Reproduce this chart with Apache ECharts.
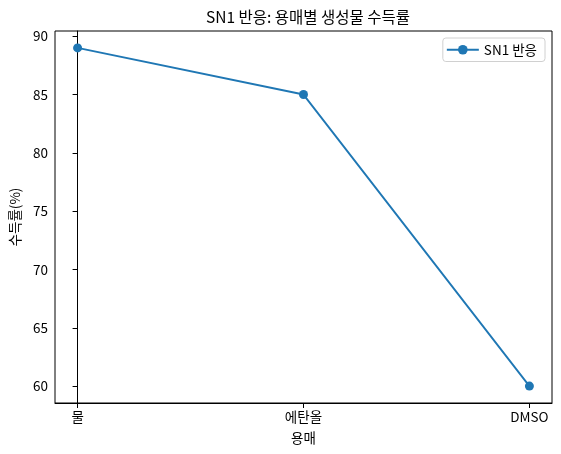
<!DOCTYPE html>
<html>
<head>
<meta charset="utf-8">
<script src="https://cdn.jsdelivr.net/npm/echarts@6/dist/echarts.min.js"></script>
<style>
  html, body { margin: 0; padding: 0; background: #fff; }
  #chart { width: 561px; height: 454px; }
</style>
</head>
<body>
<div id="chart"></div>
<script>
const categories = ['물', '에탄올', 'DMSO']
const yieldValues = [89, 85, 60]
const yTicks = [60, 65, 70, 75, 80, 85, 90]
const seriesName = 'SN1 반응'

const font = '"Noto Sans CJK KR", "Noto Sans", sans-serif'
const chart = echarts.init(document.getElementById('chart'))

const option = {
  animation: false,
  textStyle: { fontFamily: font },
  title: {
    text: 'SN1 반응: 용매별 생성물 수득률',
    left: 303,
    top: 4,
    textAlign: 'center',
    textStyle: { fontSize: 15.5, fontWeight: 'normal', color: '#000', fontFamily: font }
  },
  legend: {
    right: 16,
    top: 38,
    orient: 'vertical',
    itemWidth: 32,
    itemHeight: 12,
    itemGap: 6,
    padding: [5, 8, 5, 3],
    borderColor: '#d0d0d0',
    borderWidth: 1,
    borderRadius: 3,
    textStyle: { fontSize: 13.5, color: '#000', fontFamily: font },
    data: [seriesName]
  },
  grid: {
    left: 55,
    right: 9,
    top: 31,
    bottom: 51,
    show: true,
    borderColor: '#000',
    borderWidth: 1
  },
  xAxis: {
    type: 'value',
    min: -0.1,
    max: 2.1,
    name: '용매',
    nameLocation: 'middle',
    nameGap: 28,
    nameTextStyle: { fontSize: 13.5, color: '#000', fontFamily: font },
    splitLine: { show: false },
    axisLine: { show: true, lineStyle: { color: '#000', width: 1 } },
    axisTick: { show: true, length: 5, customValues: [0, 1, 2], lineStyle: { color: '#000' } },
    axisLabel: {
      customValues: [0, 1, 2],
      formatter: v => categories[Math.round(v)],
      fontSize: 13.5,
      color: '#000',
      margin: 7
    }
  },
  yAxis: {
    type: 'value',
    min: 58.55,
    max: 90.45,
    name: '수득률(%)',
    nameLocation: 'middle',
    nameGap: 33,
    nameTextStyle: { fontSize: 13.5, color: '#000', fontFamily: font },
    splitLine: { show: false },
    axisLine: { show: true, lineStyle: { color: '#000', width: 1 } },
    axisTick: { show: true, length: 5, customValues: yTicks, lineStyle: { color: '#000' } },
    axisLabel: {
      customValues: yTicks,
      fontSize: 13.5,
      color: '#000',
      margin: 7
    }
  },
  series: [
    {
      name: seriesName,
      type: 'line',
      data: yieldValues.map((v, i) => [i, v]),
      symbol: 'circle',
      symbolSize: 9,
      lineStyle: { color: '#1f77b4', width: 1.9 },
      itemStyle: { color: '#1f77b4' }
    }
  ]
}

chart.setOption(option)
</script>
</body>
</html>
